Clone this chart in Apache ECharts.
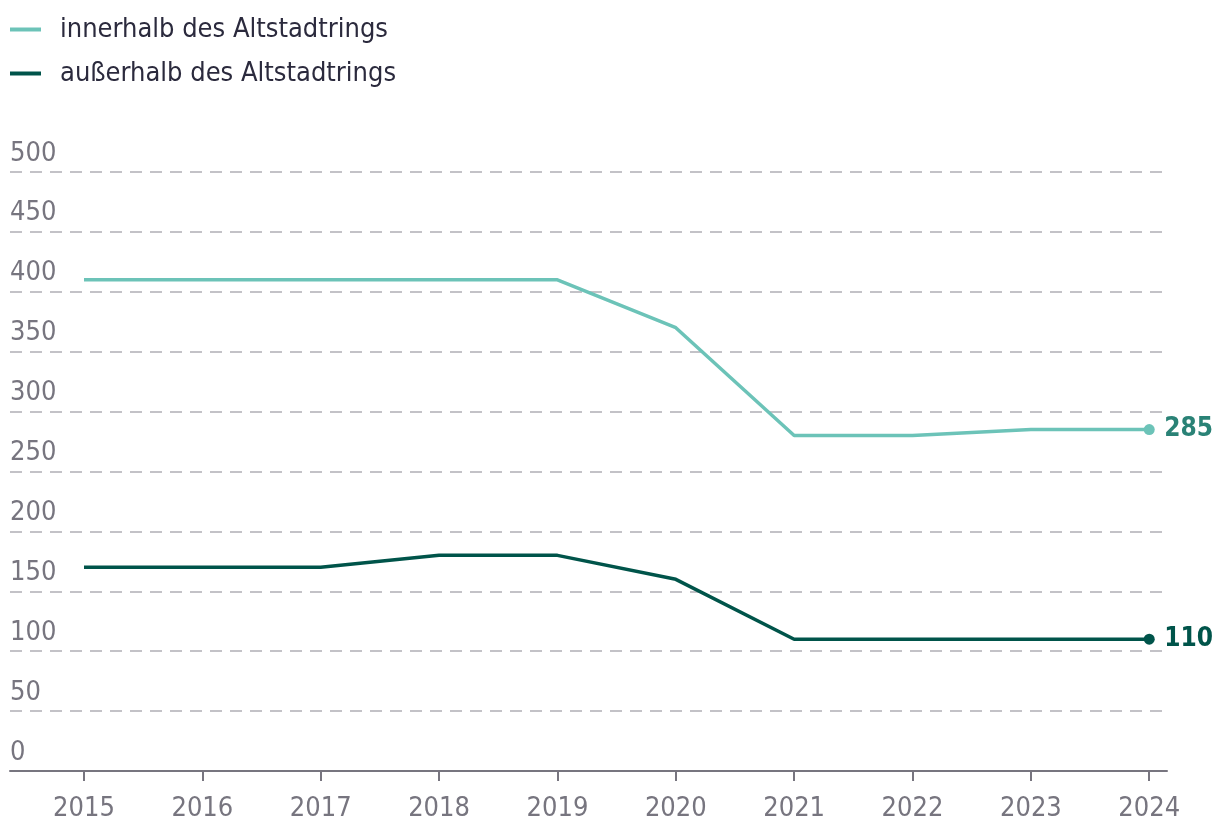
<!DOCTYPE html>
<html>
<head>
<meta charset="utf-8">
<script src="https://cdn.jsdelivr.net/npm/echarts@6/dist/echarts.min.js"></script>
<style>
html,body{margin:0;padding:0;background:#fff;}
#chart{width:1220px;height:838px;}
</style>
</head>
<body>
<div id="chart"></div>
<script>
const years = [2015, 2016, 2017, 2018, 2019, 2020, 2021, 2022, 2023, 2024];
const innerhalb = [410, 410, 410, 410, 410, 370, 280, 280, 285, 285];
const ausserhalb = [170, 170, 170, 180, 180, 160, 110, 110, 110, 110];
const seriesNames = ['innerhalb des Altstadtrings', 'außerhalb des Altstadtrings'];
const yTicks = [0, 50, 100, 150, 200, 250, 300, 350, 400, 450, 500];

const FONT = "'Liberation Sans Narrow', 'DejaVu Sans Condensed', 'Roboto Condensed', 'Liberation Sans', sans-serif";
const GREY = '#77757f';
const lastIdx = years.length - 1;

function mkSeries(name, vals, color, labelColor) {
  return {
    name: name,
    type: 'line',
    data: years.map((y, i) => [y, vals[i]]),
    lineStyle: { color: color, width: 3.5 },
    itemStyle: { color: color },
    symbol: 'circle',
    showSymbol: true,
    symbolSize: (v, p) => (p.dataIndex === lastIdx ? 11 : 0),
    emphasis: { disabled: true },
    animation: false,
    endLabel: {
      show: true,
      formatter: p => String(p.value[1]),
      color: labelColor,
      fontFamily: FONT,
      fontWeight: 'bold',
      fontSize: 26,
      distance: 15
    }
  };
}

const chart = echarts.init(document.getElementById('chart'), null, { renderer: 'canvas' });
chart.setOption({
  backgroundColor: '#ffffff',
  animation: false,
  legend: {
    orient: 'vertical',
    left: 10,
    top: 16,
    padding: 0,
    itemWidth: 31,
    itemHeight: 4,
    itemGap: 17,
    icon: 'rect',
    textStyle: { fontFamily: FONT, fontSize: 27, color: '#2b2a3d', padding: [0, 0, 0, 14] },
    data: seriesNames
  },
  grid: { left: 10, right: 53, top: 172, bottom: 67, containLabel: false },
  xAxis: {
    type: 'value',
    min: 2014.375,
    max: 2024.15,
    axisLine: { show: true, lineStyle: { color: GREY, width: 2 } },
    axisTick: { show: true, length: 10, lineStyle: { color: GREY, width: 2 }, customValues: years },
    axisLabel: {
      customValues: years,
      formatter: v => String(v),
      color: GREY,
      fontFamily: FONT,
      fontSize: 27,
      margin: 24
    },
    splitLine: { show: false }
  },
  yAxis: {
    type: 'value',
    min: 0,
    max: 500,
    interval: 50,
    axisLine: { show: false },
    axisTick: { show: false },
    axisLabel: {
      inside: true,
      margin: 0,
      align: 'left',
      verticalAlign: 'bottom',
      padding: [0, 0, 5, 0],
      color: GREY,
      fontFamily: FONT,
      fontSize: 27,
      formatter: v => (yTicks.indexOf(v) >= 0 ? String(v) : '')
    },
    splitLine: { show: true, lineStyle: { color: '#c3c2c7', width: 2, type: [12, 8] } }
  },
  series: [
    mkSeries(seriesNames[0], innerhalb, '#6cc3b8', '#2a8276'),
    mkSeries(seriesNames[1], ausserhalb, '#00544a', '#00544a')
  ]
});
</script>
</body>
</html>
